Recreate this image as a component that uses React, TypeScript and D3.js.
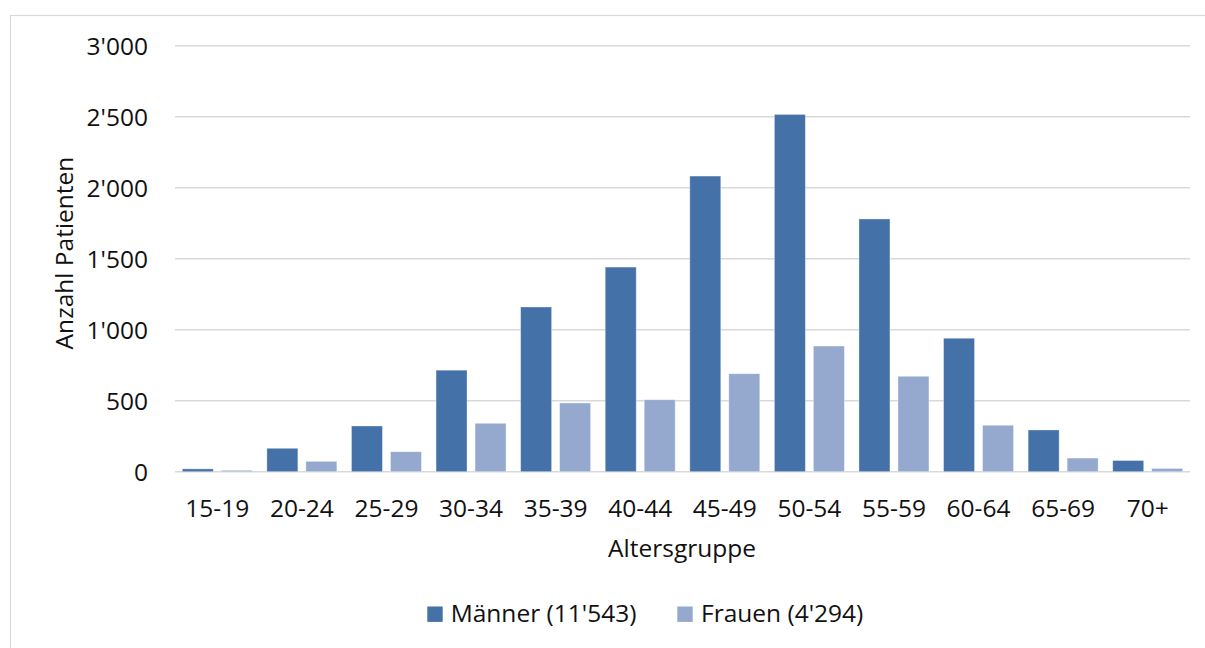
import React from "react";
import * as d3 from "d3";

const categories = ["15-19", "20-24", "25-29", "30-34", "35-39", "40-44", "45-49", "50-54", "55-59", "60-64", "65-69", "70+"];
const maenner = [20, 165, 322, 715, 1160, 1441, 2082, 2516, 1780, 940, 294, 79];
const frauen = [10, 73, 141, 341, 484, 507, 690, 885, 672, 327, 96, 23];
const seriesNames = ["Männer (11'543)", "Frauen (4'294)"];
const seriesColors = ["#4472A8", "#95A9CF"];
const yTicks = [0, 500, 1000, 1500, 2000, 2500, 3000];

const FONT = "'Open Sans', sans-serif";
const FS = 24.5;

function fmt(v: number): string {
  const s = String(v);
  return s.length > 3 ? s.slice(0, s.length - 3) + "'" + s.slice(s.length - 3) : s;
}

export default function App() {
  const W = 1205, H = 648;
  const x0 = d3.scaleBand<string>().domain(categories).range([175, 1190]).paddingInner(0.1724).paddingOuter(0.0862);
  const x1 = d3.scaleBand<string>().domain(["m", "f"]).range([0, x0.bandwidth()]).paddingInner(0.205).paddingOuter(0);
  const y = d3.scaleLinear().domain([0, 3000]).range([471.7, 45.7]);
  const data = [maenner, frauen];
  const keys = ["m", "f"];

  return (
    <svg width={W} height={H} style={{ position: "absolute", left: 0, top: 0, background: "#fff" }} fontFamily={FONT}>
      <rect x={10.5} y={15.5} width={1220} height={660} fill="#fff" stroke="#d9d9d9" strokeWidth={1.2} />
      {yTicks.map((t) => (
        <g key={t}>
          <line x1={175} x2={1190} y1={y(t)} y2={y(t)} stroke="#d9d9d9" strokeWidth={1.5} />
          <text x={148} y={y(t)} dy="0.36em" textAnchor="end" fontSize={FS} fill="#111">{fmt(t)}</text>
        </g>
      ))}
      {categories.map((c, i) => (
        <g key={c} transform={`translate(${x0(c)},0)`}>
          {keys.map((k, j) => (
            <rect key={k} x={x1(k)} y={y(data[j][i])} width={x1.bandwidth()} height={y(0) - y(data[j][i])}
              fill={seriesColors[j]} stroke="#ffffff" strokeOpacity={0.45} strokeWidth={0.8} />
          ))}
          <text x={x0.bandwidth() / 2} y={517.3} textAnchor="middle" fontSize={FS} fill="#111">{c}</text>
        </g>
      ))}
      <text x={682} y={556.7} textAnchor="middle" fontSize={FS} fill="#111">Altersgruppe</text>
      <text transform="translate(73.3,253) rotate(-90)" textAnchor="middle" fontSize={FS} fill="#111">Anzahl Patienten</text>
      <rect x={427.3} y={606.5} width={15.4} height={15.4} fill={seriesColors[0]} />
      <text x={450.7} y={622.3} fontSize={FS} fill="#111">{seriesNames[0]}</text>
      <rect x={677.3} y={606.5} width={15.4} height={15.4} fill={seriesColors[1]} />
      <text x={701} y={622.3} fontSize={FS} fill="#111">{seriesNames[1]}</text>
    </svg>
  );
}
